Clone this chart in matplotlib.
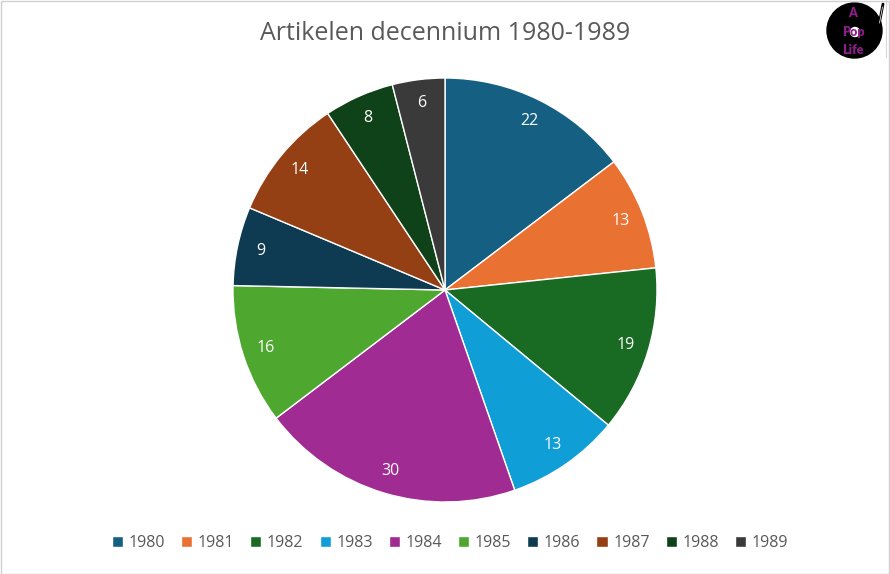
import matplotlib
matplotlib.use("Agg")
import matplotlib.pyplot as plt
from matplotlib.patches import Circle, Rectangle

years = ["1980", "1981", "1982", "1983", "1984", "1985", "1986", "1987", "1988", "1989"]
counts = [22, 13, 19, 13, 30, 16, 9, 14, 8, 6]
colors = ["#156082", "#E97132", "#196B24", "#0F9ED5", "#A02B93",
          "#4EA72E", "#0E3A52", "#953F14", "#0F4218", "#3A3A3A"]
title = "Artikelen decennium 1980-1989"

plt.rcParams['font.family'] = ['Open Sans', 'DejaVu Sans']
W, H = 890, 574
fig = plt.figure(figsize=(W / 100, H / 100), dpi=100)
fig.patch.set_facecolor("white")

# border
fig.add_artist(Rectangle((0.5 / W, 0.5 / H), 1 - 1.5 / W, 1 - 1.5 / H, transform=fig.transFigure,
                         fill=False, edgecolor="#D0D0D0", linewidth=1))

cx, cy, r = 445, 574 - 290, 212
ax = fig.add_axes([(cx - r) / W, (cy - r) / H, 2 * r / W, 2 * r / H])
wedges, texts = ax.pie(counts, colors=colors, startangle=90, counterclock=False,
                       labels=[str(c) for c in counts], labeldistance=0.89,
                       wedgeprops=dict(edgecolor="white", linewidth=1),
                       textprops=dict(color="white", fontsize=11.5, ha="center", va="center"))
for t in texts:
    t.set_ha("center")
    t.set_va("center")
ax.set_xlim(-1, 1)
ax.set_ylim(-1, 1)
ax.set_aspect("equal")

fig.text(445 / W, 1 - 34 / H, title, ha="center", va="center", fontsize=18, color="#595959")

leg = fig.legend(wedges, years, loc="center", bbox_to_anchor=(450 / W, 1 - 543 / H), ncol=10,
                 frameon=False, fontsize=11.5, handlelength=0.7, handleheight=0.7,
                 handletextpad=0.35, columnspacing=1.0, labelcolor="#595959")

# logo (axes in pixel units, y downward)
x0, x1, y0, y1 = 815, 889, 0, 64
lax = fig.add_axes([x0 / W, 1 - y1 / H, (x1 - x0) / W, (y1 - y0) / H])
lax.set_xlim(x0, x1)
lax.set_ylim(y1, y0)
lax.axis("off")
lax.add_patch(Circle((854.5, 30.5), 27.5, color="black", zorder=1))
lax.add_patch(Circle((855, 32), 4.5, color="white", zorder=2))
lax.plot([883, 879, 868], [4, 25, 43], color="black", lw=2.0, solid_capstyle="round", zorder=3)
lax.plot([882.5, 879.5], [7, 23], color="white", lw=0.5, zorder=4)
lax.plot([885.5, 885.5], [0, 57], color="#D8D8D8", lw=0.8, zorder=0)
for txt, yy in [("A", 13), ("Pop", 32), ("Life", 50)]:
    lax.text(853, yy, txt, ha="center", va="center", color="#8E1E8A", fontsize=9,
             fontweight="heavy", family=["Lato", "DejaVu Sans"], zorder=5)

fig.savefig("out.png", dpi=100, facecolor="white")
